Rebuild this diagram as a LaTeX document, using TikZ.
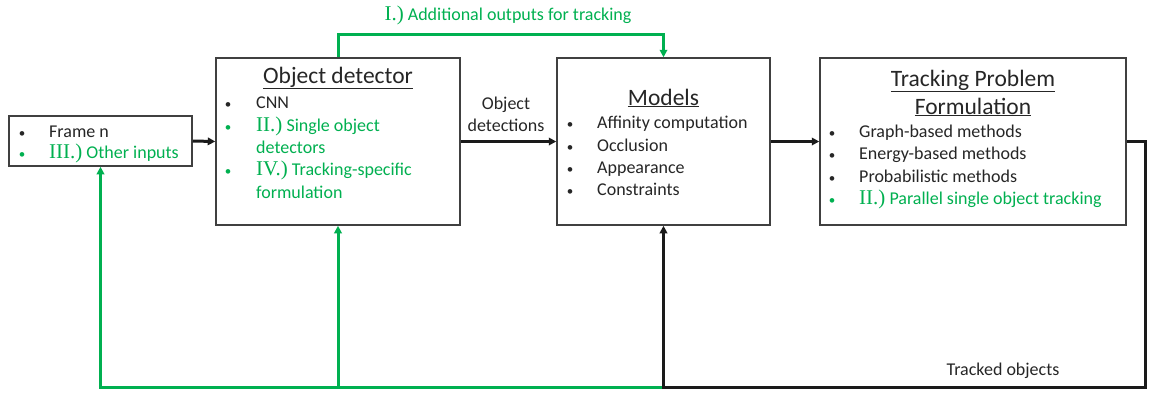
\documentclass[tikz,border=0pt]{standalone}
\usepackage{fontspec}
\setmainfont{Carlito}
\newfontfamily\romfont{Liberation Serif}
\usetikzlibrary{arrows.meta,positioning}
\definecolor{trackgreen}{RGB}{0,176,80}
\definecolor{boxgray}{RGB}{64,64,64}
\definecolor{flowblack}{RGB}{26,26,26}
\definecolor{inktext}{RGB}{38,38,38}
\newcommand{\rnum}[1]{{\romfont\fontsize{21}{22}\selectfont #1}}

\tikzset{
	block/.style={draw=boxgray, line width=1.5pt, fill=white, inner sep=0pt},
	heading/.style={font=\fontsize{23.5}{28}\selectfont, align=center, inner sep=0pt},
	item/.style={font=\fontsize{18}{22}\selectfont, anchor=base west, inner sep=0pt},
	dot/.style={font=\fontsize{13}{22}\selectfont, anchor=base, inner sep=0pt},
	flow/.style={line width=3pt, draw=flowblack, -{Triangle[length=7.5pt,width=7.5pt]}},
	extra/.style={line width=3pt, draw=trackgreen, -{Triangle[length=7.5pt,width=7.5pt]}},
}

\begin{document}
\begin{tikzpicture}[x=1pt,y=-1pt, every node/.style={font=\fontsize{18}{22}\selectfont, text=inktext}]
	\useasboundingbox (0,0) rectangle (1149,392);

	% boxes
	\node[block, minimum width=183pt, minimum height=50pt] (frame) at (100.5,141) {};
	\node[block, minimum width=244pt, minimum height=167pt] (det) at (338,141.5) {};
	\node[block, minimum width=213pt, minimum height=167pt] (models) at (663.5,141.5) {};
	\node[block, minimum width=306pt, minimum height=167pt] (track) at (973,141.5) {};

	% loop coordinates
	\coordinate (loopTop) at (500,34);
	\coordinate (turnR) at (1145,387);
	\coordinate (turnB) at (models.south |- turnR);
	\coordinate (turnD) at (det.south |- turnR);

	% green feedback
	\draw[extra] (det.north) |- (loopTop) -| (models.north);
	\draw[extra] (turnB) -| (frame.south);
	\draw[extra] (turnD) -- (det.south);

	% main flow
	\draw[flow] (frame.east) -- (det.west);
	\draw[flow] (det.east) -- (models.west);
	\draw[flow] (models.east) -- (track.west);
	\draw[flow] (track.east) -| (turnR) -- (turnB) -- (models.south);

	% labels
	\node[text=trackgreen] (lblTop) at (508,15) {\rnum{I.)} Additional outputs for tracking};
	\node[align=center, inner sep=0pt] (lblDet) at (506,114) {Object\\detections};
	\node (lblTracked) at (1003,371) {Tracked objects};

	% frame box
	\foreach \y/\c/\t [count=\i] in {132/inktext/{Frame n}, 153/trackgreen/{\rnum{III.)} Other inputs}}{
		\node[dot, text=\c] (frame-b\i) at (22,\y+5) {\textbullet};
		\node[item, text=\c] (frame-t\i) at (49,\y+5) {\t};
	}

	% object detector
	\node[heading] (det-h) at (338,78) {\underline{Object detector}};
	\foreach \y/\c [count=\i] in {103/inktext, 126/trackgreen, 170/trackgreen}
		\node[dot, text=\c] (det-b\i) at (228,\y+5) {\textbullet};
	\foreach \y/\c/\t [count=\i] in {103/inktext/CNN, 126/trackgreen/{\rnum{II.)} Single object}, 148/trackgreen/detectors, 170/trackgreen/{\rnum{IV.)} Tracking-specific}, 193/trackgreen/formulation}
		\node[item, text=\c] (det-t\i) at (256,\y+5) {\t};

	% models
	\node[heading] (models-h) at (663.5,98) {\underline{Models}};
	\foreach \y/\t [count=\i] in {123/Affinity computation, 146/Occlusion, 168/Appearance, 190/Constraints}{
		\node[dot] (models-b\i) at (570,\y+5) {\textbullet};
		\node[item] (models-t\i) at (597,\y+5) {\t};
	}

	% tracking problem formulation
	\node[heading] (track-h) at (973,93) {\underline{Tracking Problem}\\\underline{Formulation}};
	\foreach \y/\c/\t [count=\i] in {132/inktext/Graph-based methods, 154/inktext/Energy-based methods, 177/inktext/Probabilistic methods, 199/trackgreen/{\rnum{II.)} Parallel single object tracking}}{
		\node[dot, text=\c] (track-b\i) at (832,\y+5) {\textbullet};
		\node[item, text=\c] (track-t\i) at (859,\y+5) {\t};
	}
\end{tikzpicture}
\end{document}
